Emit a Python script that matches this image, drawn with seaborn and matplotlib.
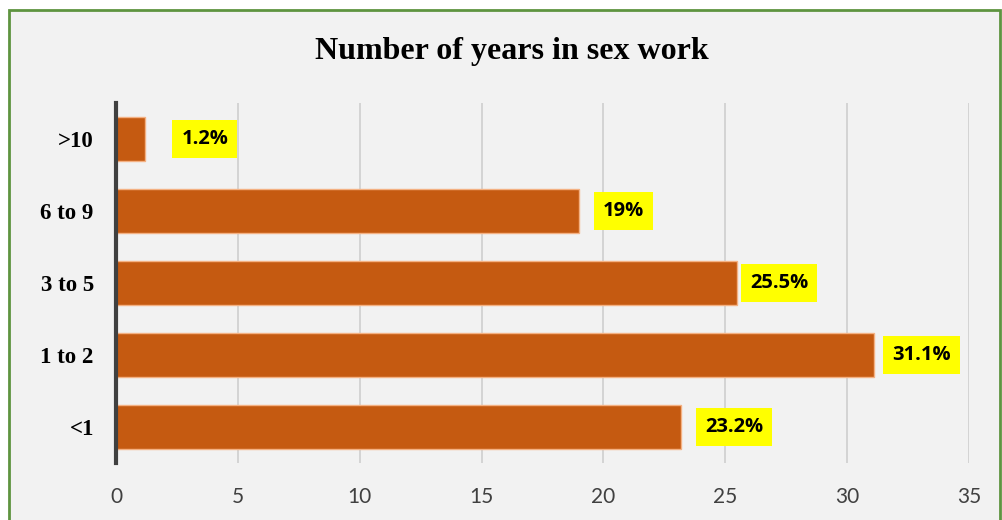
import matplotlib
matplotlib.use("Agg")
from matplotlib import pyplot as plt
from matplotlib.patches import Rectangle
import pandas
import seaborn as sns

# data (top to bottom)
categories = [">10", "6 to 9", "3 to 5", "1 to 2", "<1"]
percent = [1.2, 19, 25.5, 31.1, 23.2]
value_labels = ["1.2%", "19%", "25.5%", "31.1%", "23.2%"]

# label nudges (points, to the right of the bar end)
label_nudge = [20, 11, 3, 7, 11]

dataframe = pandas.DataFrame({"category": categories, "percent": percent})

sns.set_style("white")
fig = plt.figure(figsize=(10.02, 5.2), dpi=100)
fig.patch.set_facecolor("white")

# green frame with grey fill
frame = Rectangle((9 / 1002, -0.05), (1000 - 9) / 1002, 1 - 10 / 520 + 0.05,
                  transform=fig.transFigure, facecolor="#f2f2f2",
                  edgecolor="#5e9440", linewidth=2, zorder=-10)
fig.patches.append(frame)

ax = fig.add_axes([116 / 1002, 1 - 463 / 520, (969 - 116) / 1002, (463 - 103) / 520])
ax.set_facecolor("none")
ax.set_zorder(1)

sns.barplot(data=dataframe, x="percent", y="category", order=categories,
            orient="h", color="#c55a11", saturation=1, width=0.61,
            edgecolor="#f4b183", linewidth=1, ax=ax, zorder=3)

ax.set_xlim(0, 35)
ax.set_ylim(4.5, -0.5)
ax.set_xticks(range(0, 36, 5))
ax.grid(axis="x", color="#cfcfcf", linewidth=1.2, zorder=0)
ax.grid(axis="y", visible=False)
ax.set_axisbelow(True)
for side in ["top", "right", "bottom"]:
    ax.spines[side].set_visible(False)
ax.spines["left"].set_color("#404040")
ax.spines["left"].set_linewidth(3)
ax.spines["left"].set_zorder(5)

ax.tick_params(axis="x", length=0, pad=17, labelsize=15, labelcolor="#404040")
ax.tick_params(axis="y", length=0, pad=16)
for t in ax.get_xticklabels():
    t.set_fontfamily(["Lato", "DejaVu Sans"])
for t in ax.get_yticklabels():
    t.set_fontfamily(["Liberation Serif", "DejaVu Serif"])
    t.set_fontweight("bold")
    t.set_fontsize(16.5)
    t.set_color("black")
ax.set_xlabel("")
ax.set_ylabel("")

for i, (val, lab) in enumerate(zip(percent, value_labels)):
    ax.annotate(lab, xy=(val, i), xytext=(label_nudge[i] + 6, 0),
                textcoords="offset points", ha="left", va="center",
                fontsize=14.5, fontweight="bold", family=["Open Sans", "DejaVu Sans"],
                color="black", zorder=6,
                bbox=dict(boxstyle="square,pad=0.45", facecolor="#ffff00", edgecolor="none"))

fig.text(512 / 1002, 1 - 51 / 520, "Number of years in sex work",
         ha="center", va="center", fontsize=23, fontweight="bold",
         family=["Liberation Serif", "DejaVu Serif"], color="black")

fig.savefig("out.png", dpi=100, facecolor=fig.get_facecolor())
